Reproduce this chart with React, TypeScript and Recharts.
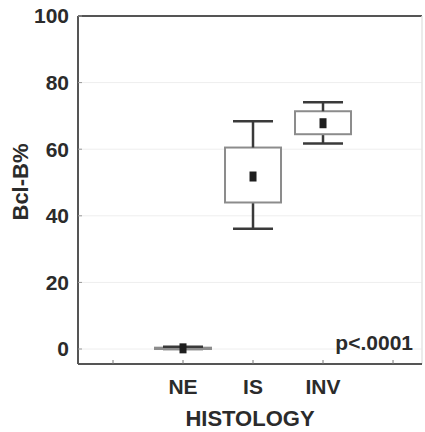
import React from "react";
import {
  ComposedChart,
  Bar,
  Scatter,
  XAxis,
  YAxis,
  CartesianGrid,
  ReferenceLine,
} from "recharts";

// Categories and their x positions on the numeric axis
const categories = ["NE", "IS", "INV"];
const xPositions = [2, 3, 4];
const xTicks = [1, 2, 3, 4, 5];
const xTickLabels = ["", "NE", "IS", "INV", ""];
const yTicks = [0, 20, 40, 60, 80, 100];

// Box plot statistics (Bcl-B %)
const minVals = [0, 36.1, 61.7];
const q1Vals = [0, 44.0, 64.5];
const meanVals = [0.2, 51.8, 67.8];
const q3Vals = [0.4, 60.5, 71.4];
const maxVals = [0.7, 68.4, 74.1];

const data = categories.map((name, i) => ({
  name,
  x: xPositions[i],
  base: minVals[i],
  lowW: q1Vals[i] - minVals[i],
  box: q3Vals[i] - q1Vals[i],
  highW: maxVals[i] - q3Vals[i],
  mean: meanVals[i],
}));

const FONT = "'Liberation Sans', Arial, Helvetica, sans-serif";
const TEXT = "#2b2b2b";
const WHISKER = "#3a3a3a";
const BOXSTROKE = "#8c8c8c";
const CAP = 40;

const LowWhisker = (props: any) => {
  const { x, y, width, height } = props;
  if (x == null || y == null) return null;
  const cx = x + width / 2;
  return (
    <g>
      <line x1={cx} x2={cx} y1={y} y2={y + height} stroke={WHISKER} strokeWidth={2.5} />
      <line x1={cx - CAP / 2} x2={cx + CAP / 2} y1={y + height} y2={y + height} stroke={WHISKER} strokeWidth={2.5} />
    </g>
  );
};

const HighWhisker = (props: any) => {
  const { x, y, width, height } = props;
  if (x == null || y == null) return null;
  const cx = x + width / 2;
  return (
    <g>
      <line x1={cx} x2={cx} y1={y} y2={y + height} stroke={WHISKER} strokeWidth={2.5} />
      <line x1={cx - CAP / 2} x2={cx + CAP / 2} y1={y} y2={y} stroke={WHISKER} strokeWidth={2.5} />
    </g>
  );
};

const BoxShape = (props: any) => {
  const { x, y, width, height } = props;
  if (x == null || y == null) return null;
  return (
    <rect x={x} y={y} width={width} height={Math.max(height, 0.5)} fill="#ffffff" stroke={BOXSTROKE} strokeWidth={2} />
  );
};

const MeanShape = (props: any) => {
  const { cx, cy } = props;
  if (cx == null || cy == null) return null;
  return <rect x={cx - 3.5} y={cy - 5} width={7} height={10} fill="#1e1e1e" />;
};

const tickStyle = { fill: TEXT, fontSize: 21, fontWeight: 700, fontFamily: FONT };

export default function App() {
  return (
    <div style={{ position: "absolute", left: 0, top: 0, width: 425, height: 432, background: "#fff" }}>
      <ComposedChart
        width={425}
        height={432}
        data={data}
        margin={{ top: 16, right: 3, bottom: 0, left: 0 }}
      >
        <CartesianGrid vertical={false} stroke="#eeeeee" strokeWidth={1} />
        <XAxis
          dataKey="x"
          type="number"
          domain={[0.5, 5.414]}
          ticks={xTicks}
          allowDataOverflow
          height={68}
          tickSize={-4}
          tickMargin={19}
          tickLine={{ stroke: "#777" }}
          axisLine={{ stroke: "#555", strokeWidth: 2 }}
          tick={tickStyle}
          tickFormatter={(v: number) => xTickLabels[xTicks.indexOf(v)] ?? ""}
          label={{
            content: (p: any) => {
              const vb = p.viewBox;
              return (
                <text
                  x={vb.x + vb.width / 2}
                  y={426}
                  textAnchor="middle"
                  fill={TEXT}
                  fontSize={22}
                  fontWeight={700}
                  fontFamily={FONT}
                >
                  HISTOLOGY
                </text>
              );
            },
          }}
        />
        <YAxis
          type="number"
          domain={[-4.5, 100]}
          ticks={yTicks}
          allowDataOverflow
          width={78}
          tickSize={-4}
          tickMargin={13}
          tickLine={{ stroke: "#999" }}
          axisLine={{ stroke: "#555", strokeWidth: 2 }}
          tick={tickStyle}
          label={{
            content: () => (
              <text
                x={28}
                y={182}
                transform="rotate(-90 28 182)"
                textAnchor="middle"
                fill={TEXT}
                fontSize={22}
                fontWeight={700}
                fontFamily={FONT}
              >
                Bcl-B%
              </text>
            ),
          }}
        />
        <ReferenceLine y={100} stroke="#555" strokeWidth={2} />
        <ReferenceLine x={5.414} stroke="#e4e4e4" strokeWidth={1.5} />
        <Bar dataKey="base" stackId="b" barSize={56} fill="transparent" isAnimationActive={false} />
        <Bar dataKey="lowW" stackId="b" barSize={56} shape={LowWhisker} isAnimationActive={false} />
        <Bar dataKey="box" stackId="b" barSize={56} shape={BoxShape} isAnimationActive={false} />
        <Bar dataKey="highW" stackId="b" barSize={56} shape={HighWhisker} isAnimationActive={false} />
        <Scatter dataKey="mean" shape={MeanShape} isAnimationActive={false} />
      </ComposedChart>
      <div
        style={{
          position: "absolute",
          right: 12,
          top: 331,
          fontFamily: FONT,
          fontSize: 21,
          fontWeight: 700,
          color: TEXT,
          lineHeight: "24px",
        }}
      >
        p&lt;.0001
      </div>
    </div>
  );
}
